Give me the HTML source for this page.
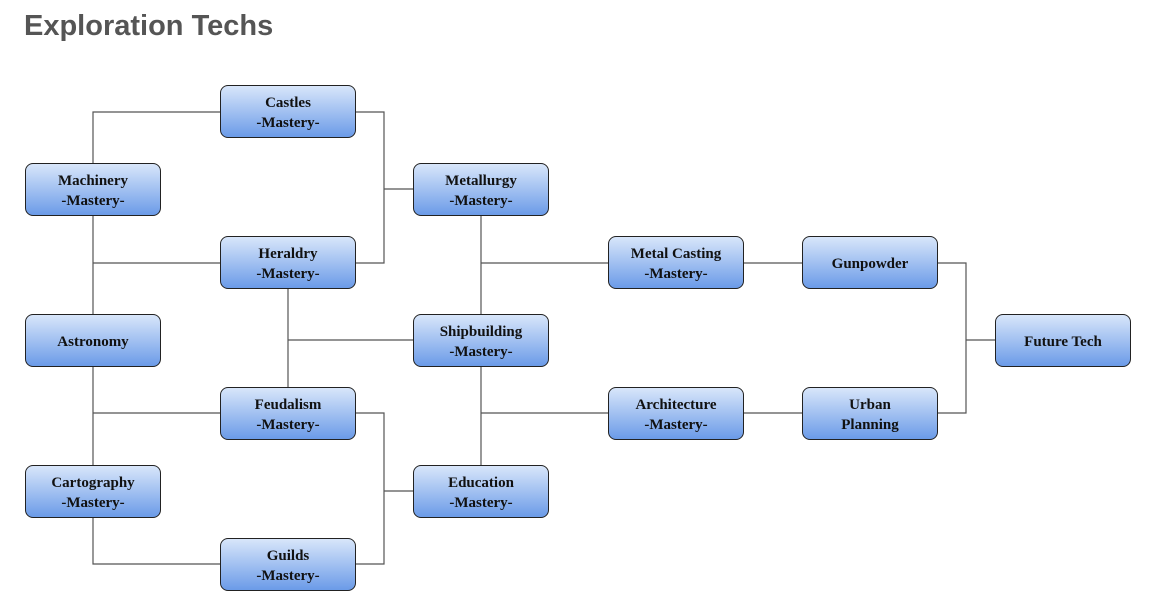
<!DOCTYPE html>
<html><head><style>
body{margin:0;width:1149px;height:606px;background:#fff;position:relative;overflow:hidden}
h1{position:absolute;left:24px;top:10px;margin:0;font:bold 29px "Liberation Sans",Arial,sans-serif;color:#555}
.n{position:absolute;width:134px;height:51px;border:1.5px solid #222;border-radius:8px;background:linear-gradient(#d8e6fa,#6b9be8);display:flex;align-items:center;justify-content:center;text-align:center;font:bold 15px/20px "Liberation Serif","Times New Roman",Times,"DejaVu Serif",serif;color:#111;padding-top:2px;box-sizing:content-box}
.n{height:49px}
svg{position:absolute;left:0;top:0}
</style></head><body>
<h1>Exploration Techs</h1>
<svg width="1149" height="606" stroke="#555" stroke-width="1.2" fill="none">
<path d="M93 163V112H220M93 216V314M93 263H220M93 367V465M93 413H220M93 518V564H220"/>
<path d="M356 112H384V263H356M384 189H413M288 289V387M288 340H413M356 413H384V564H356M384 491H413"/>
<path d="M481 216V314M481 263H608M481 367V465M481 413H608M744 263H802M744 413H802M938 263H966V413H938M966 340H995"/>
</svg>
<div class="n" style="left:220px;top:85px">Castles<br>-Mastery-</div>
<div class="n" style="left:25px;top:163px">Machinery<br>-Mastery-</div>
<div class="n" style="left:220px;top:236px">Heraldry<br>-Mastery-</div>
<div class="n" style="left:25px;top:314px">Astronomy</div>
<div class="n" style="left:220px;top:387px">Feudalism<br>-Mastery-</div>
<div class="n" style="left:25px;top:465px">Cartography<br>-Mastery-</div>
<div class="n" style="left:220px;top:538px">Guilds<br>-Mastery-</div>
<div class="n" style="left:413px;top:163px">Metallurgy<br>-Mastery-</div>
<div class="n" style="left:413px;top:314px">Shipbuilding<br>-Mastery-</div>
<div class="n" style="left:413px;top:465px">Education<br>-Mastery-</div>
<div class="n" style="left:608px;top:236px">Metal Casting<br>-Mastery-</div>
<div class="n" style="left:608px;top:387px">Architecture<br>-Mastery-</div>
<div class="n" style="left:802px;top:236px">Gunpowder</div>
<div class="n" style="left:802px;top:387px">Urban<br>Planning</div>
<div class="n" style="left:995px;top:314px">Future Tech</div>
</body></html>
